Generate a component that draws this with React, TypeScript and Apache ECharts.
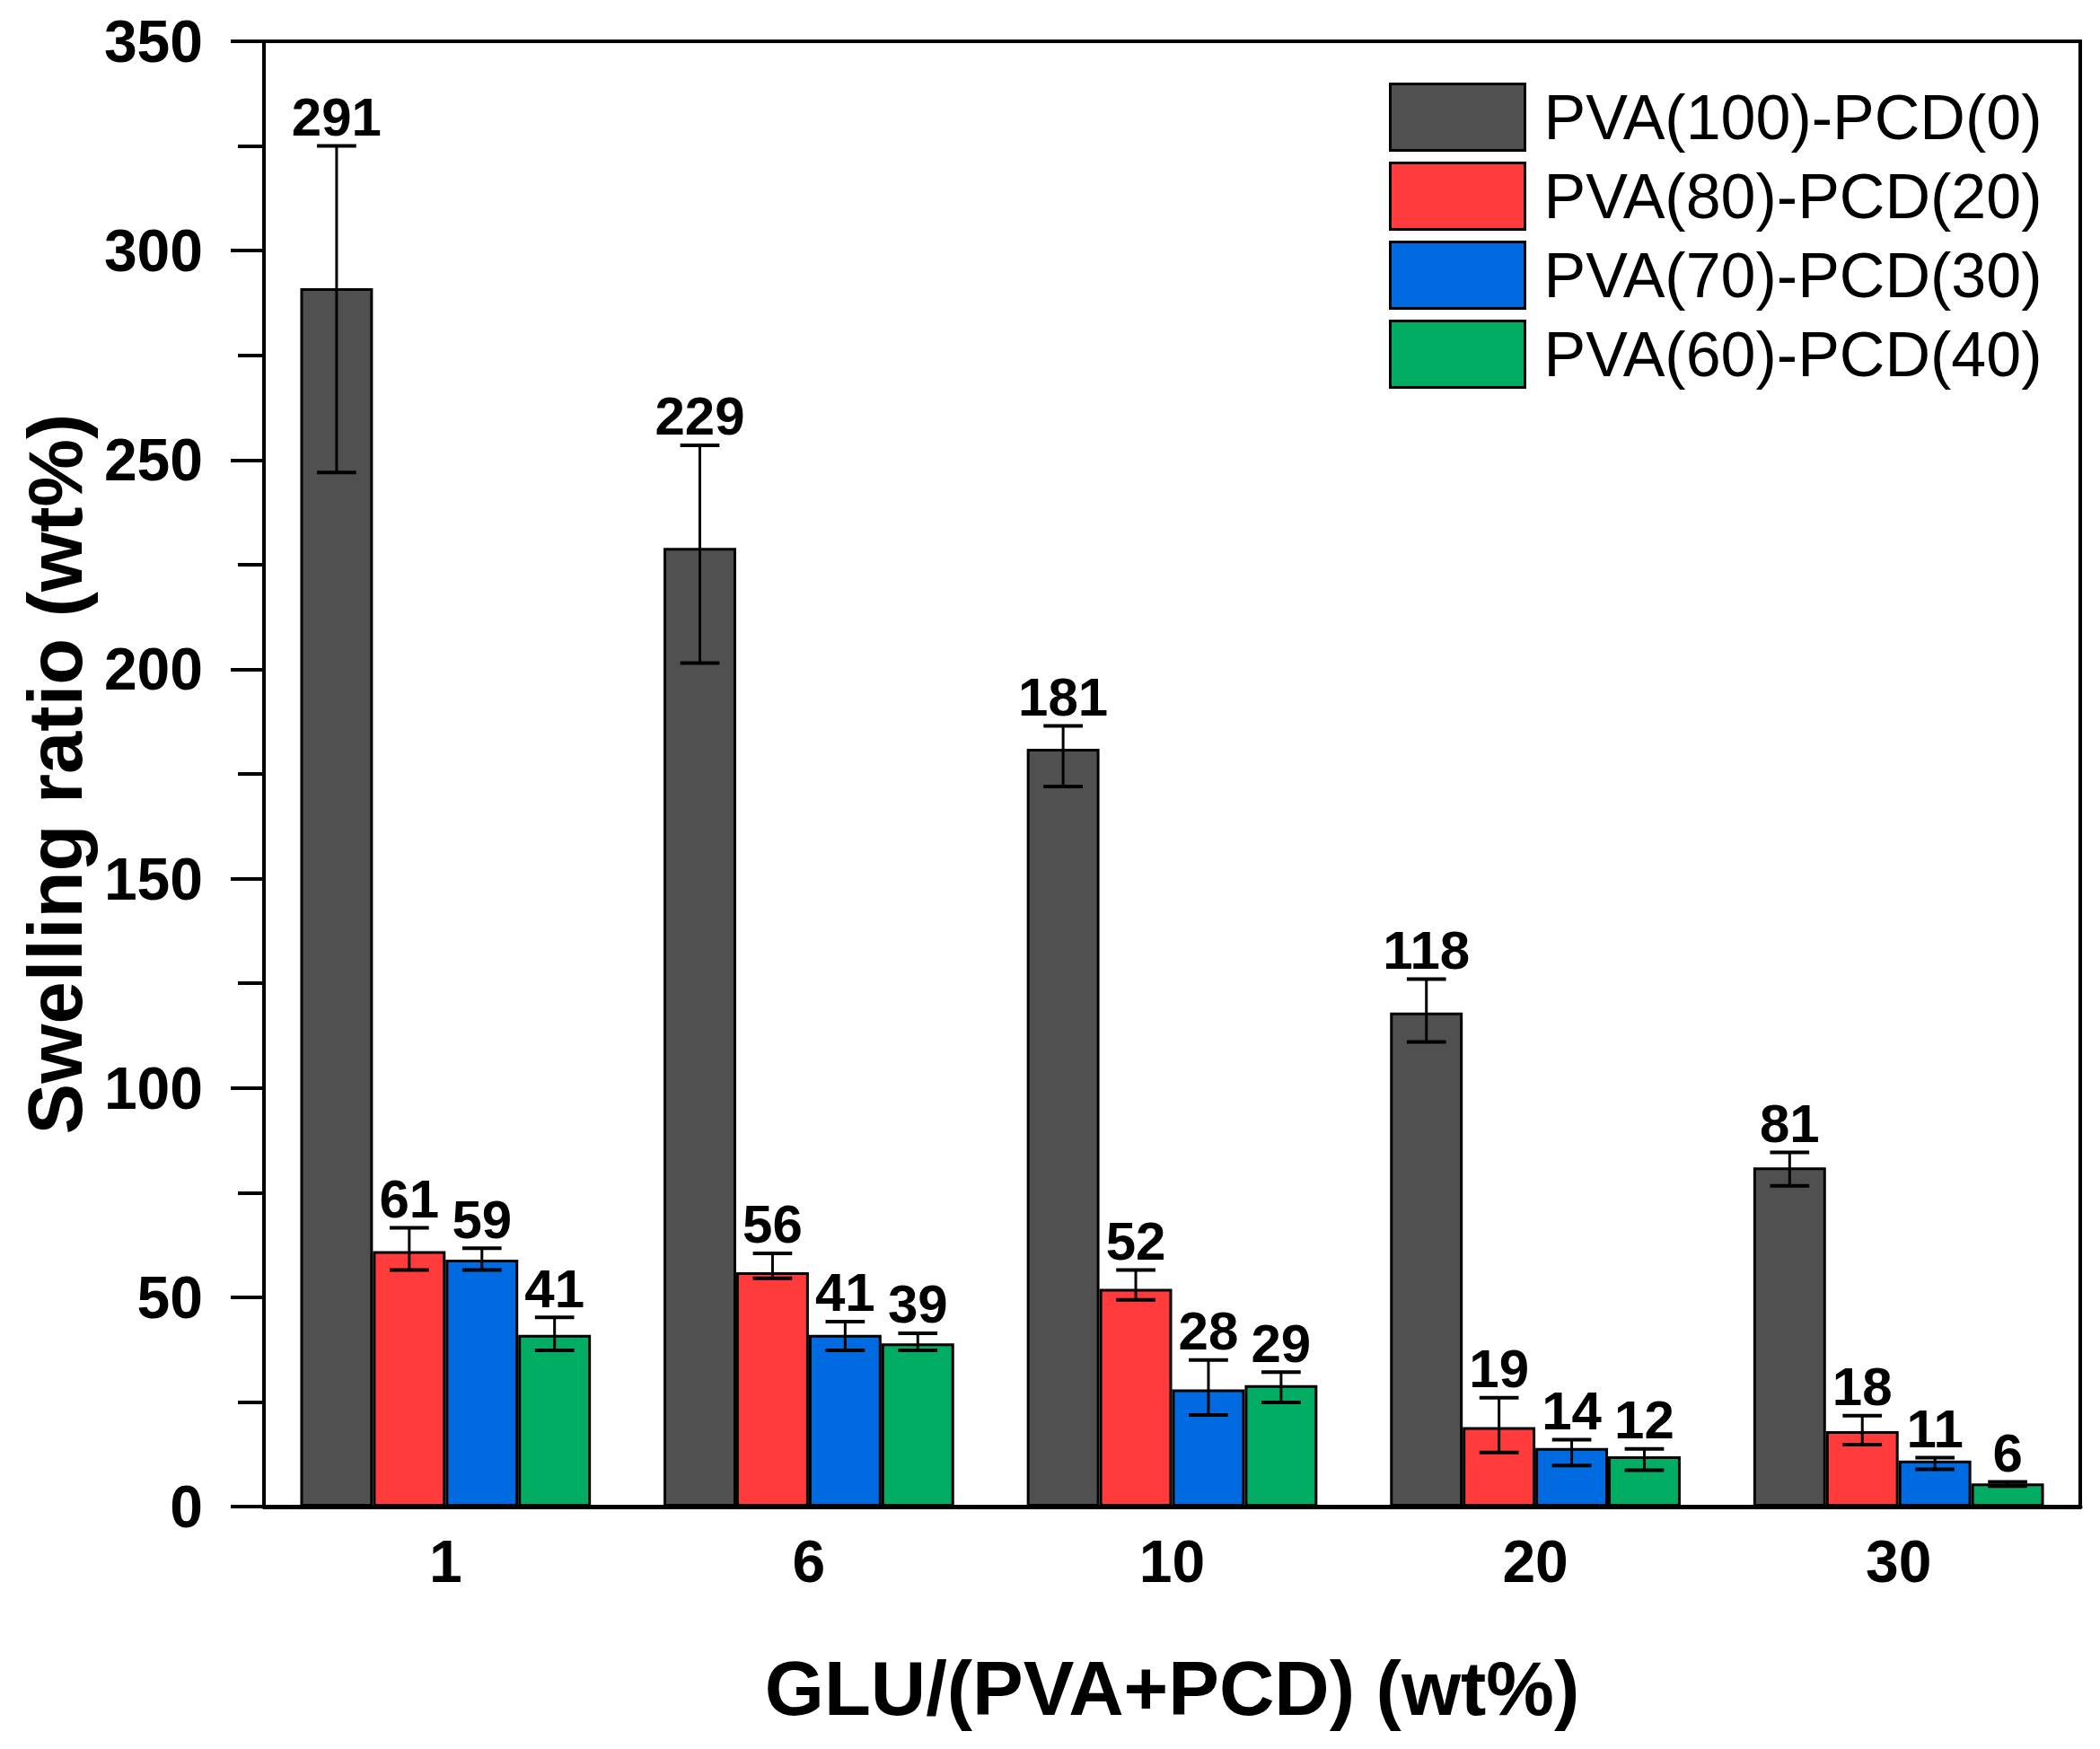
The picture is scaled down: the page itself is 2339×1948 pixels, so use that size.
import React, { useEffect, useRef } from 'react';
import * as echarts from 'echarts';

const categories = ['1', '6', '10', '20', '30'];
const seriesNames = ['PVA(100)-PCD(0)', 'PVA(80)-PCD(20)', 'PVA(70)-PCD(30)', 'PVA(60)-PCD(40)'];
const seriesColors = ['#505050', '#ff3b3b', '#006ae0', '#00ad63'];

// mean values (bar heights)
const pva100 = [291, 229, 181, 118, 81];
const pva80 = [61, 56, 52, 19, 18];
const pva70 = [59, 41, 28, 14, 11];
const pva60 = [41, 39, 29, 12, 5.5];

// error bar bounds (low / high)
const pva100Low = [247, 201.5, 172, 111, 76.6];
const pva100High = [325, 253.5, 186.5, 126, 84.6];
const pva80Low = [56.5, 54.5, 49.4, 12.9, 14.8];
const pva80High = [66.6, 60.5, 56.5, 26, 21.7];
const pva70Low = [56.5, 37.3, 21.9, 9.8, 8.9];
const pva70High = [61.7, 44.2, 35, 16, 11.7];
const pva60Low = [37.3, 37.3, 24.9, 8.7, 4.9];
const pva60High = [45.2, 41.4, 32.1, 13.8, 5.9];

const yTicks = { min: 0, max: 350, interval: 50 };

const FONT = '"Liberation Sans", Arial, Helvetica, sans-serif';
const CAT_GAP = 0.2;

const App: React.FC = () => {
  const chartRef = useRef<HTMLDivElement>(null);

  useEffect(() => {
    if (!chartRef.current) return;
    const chart = echarts.init(chartRef.current, undefined, { renderer: 'svg' });

    const means = [pva100, pva80, pva70, pva60];
    const lows = [pva100Low, pva80Low, pva70Low, pva60Low];
    const highs = [pva100High, pva80High, pva70High, pva60High];
    const n = means.length;

    const barSeries = means.map((vals, s) => ({
      name: seriesNames[s],
      type: 'bar',
      data: vals,
      barGap: '0%',
      barCategoryGap: `${CAT_GAP * 100}%`,
      itemStyle: {
        color: seriesColors[s],
        borderColor: '#000',
        borderWidth: 3,
      },
      z: 2,
    }));

    const errorSeries = means.map((vals, s) => ({
      name: seriesNames[s] + ' err',
      type: 'custom',
      z: 3,
      encode: { x: 0, y: [1, 2] },
      data: vals.map((v, i) => [i, lows[s][i], highs[s][i], v]),
      renderItem: (_params: any, api: any) => {
        const idx = api.value(0);
        const low = api.value(1);
        const high = api.value(2);
        const val = api.value(3);
        const center = api.coord([idx, 0])[0];
        const band = api.size([1, 0])[0];
        const bw = (band * (1 - CAT_GAP)) / n;
        const x = center - (band * (1 - CAT_GAP)) / 2 + bw * (s + 0.5);
        const yLow = api.coord([idx, low])[1];
        const yHigh = api.coord([idx, high])[1];
        const cap = bw * 0.27;
        return {
          type: 'group',
          children: [
            { type: 'line', shape: { x1: x, y1: yLow, x2: x, y2: yHigh }, style: { stroke: '#000', lineWidth: 3 } },
            { type: 'line', shape: { x1: x - cap, y1: yHigh, x2: x + cap, y2: yHigh }, style: { stroke: '#000', lineWidth: 4 } },
            { type: 'line', shape: { x1: x - cap, y1: yLow, x2: x + cap, y2: yLow }, style: { stroke: '#000', lineWidth: 4 } },
            {
              type: 'text',
              x,
              y: yHigh - 2,
              style: {
                text: String(Math.round(val)),
                fontSize: 60,
                fontWeight: 'bold',
                fontFamily: FONT,
                fill: '#000',
                align: 'center',
                verticalAlign: 'bottom',
              },
            },
          ],
        };
      },
    }));

    const option: any = {
      animation: false,
      backgroundColor: '#fff',
      textStyle: { fontFamily: FONT },
      grid: {
        left: 294,
        right: 22,
        top: 46,
        bottom: 270,
        show: true,
        borderColor: '#000',
        borderWidth: 4,
        backgroundColor: 'transparent',
      },
      legend: {
        data: seriesNames,
        orient: 'vertical',
        left: 1547,
        top: 92,
        padding: 0,
        itemWidth: 150,
        itemHeight: 74,
        itemGap: 11,
        icon: 'rect',
        itemStyle: { borderColor: '#000', borderWidth: 3 },
        textStyle: {
          fontFamily: FONT,
          fontSize: 70,
          color: '#000',
          padding: [0, 0, 0, 16],
        },
      },
      xAxis: {
        type: 'category',
        data: categories,
        name: 'GLU/(PVA+PCD) (wt%)',
        nameLocation: 'middle',
        nameGap: 160,
        nameTextStyle: { fontFamily: FONT, fontSize: 85, fontWeight: 'bold', color: '#000' },
        axisLine: { lineStyle: { color: '#000', width: 5 } },
        axisTick: { show: false },
        axisLabel: { fontFamily: FONT, fontSize: 66, fontWeight: 'bold', color: '#000', margin: 28 },
        splitLine: { show: false },
      },
      yAxis: {
        type: 'value',
        min: yTicks.min,
        max: yTicks.max,
        interval: yTicks.interval,
        name: 'Swelling ratio (wt%)',
        nameLocation: 'middle',
        nameGap: 190,
        nameTextStyle: { fontFamily: FONT, fontSize: 85, fontWeight: 'bold', color: '#000' },
        axisLine: { show: true, lineStyle: { color: '#000', width: 4 } },
        axisTick: { show: true, inside: false, length: 37, lineStyle: { color: '#000', width: 4 } },
        minorTick: { show: true, splitNumber: 2, length: 29, lineStyle: { color: '#000', width: 4 } },
        axisLabel: { fontFamily: FONT, fontSize: 66, fontWeight: 'bold', color: '#000', margin: 68 },
        splitLine: { show: false },
        minorSplitLine: { show: false },
      },
      series: [...barSeries, ...errorSeries],
    };

    chart.setOption(option);

    return () => {
      chart.dispose();
    };
  }, []);

  return (
    <div
      ref={chartRef}
      style={{ position: 'absolute', left: 0, top: 0, width: '2339px', height: '1948px', background: '#fff' }}
    />
  );
};

export default App;
